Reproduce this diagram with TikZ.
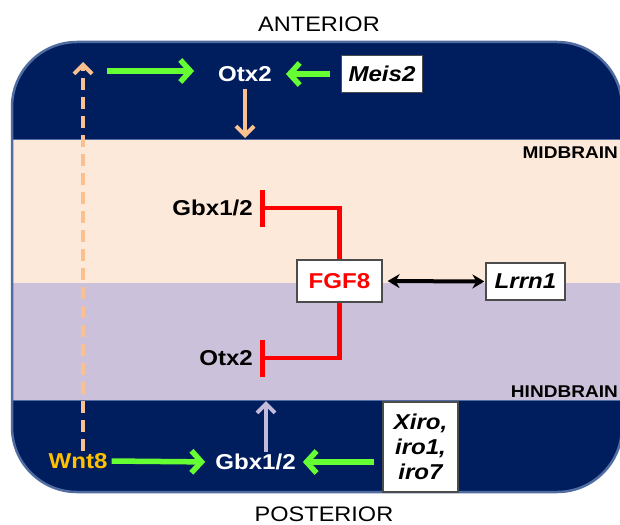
\documentclass[tikz,border=0pt]{standalone}
\usepackage{fontspec}
\setmainfont{Liberation Sans}[FakeStretch=1.12]
\usepackage{xcolor}
\usetikzlibrary{arrows.meta,positioning}

\definecolor{navy}{RGB}{0,30,94}
\definecolor{peach}{RGB}{253,233,217}
\definecolor{lavender}{RGB}{204,193,218}
\definecolor{rimblue}{RGB}{80,108,160}
\definecolor{actgreen}{RGB}{102,255,51}
\definecolor{wntgold}{RGB}{255,192,0}
\definecolor{peachline}{RGB}{250,192,144}
\definecolor{lavline}{RGB}{196,186,218}
\definecolor{inhred}{RGB}{255,0,0}

\begin{document}
\begin{tikzpicture}[x=1pt, y=-1pt,
  gene/.style={font=\fontsize{21.5}{25}\selectfont\bfseries, inner sep=2pt},
  target/.style={gene, inner xsep=7pt},
  genebox/.style={draw=black!70, line width=1.2pt, fill=white, align=center,
                  font=\fontsize{21.5}{25}\selectfont\bfseries\itshape, inner sep=2pt},
  axis/.style={font=\fontsize{21}{25}\selectfont, inner sep=0pt},
  region/.style={font=\fontsize{17}{20}\selectfont\bfseries, inner sep=0pt},
  act/.style={actgreen, line width=5.5pt, -{Straight Barb[length=10pt,width=22pt]}},
  inhib/.style={inhred, line width=4.5pt, -{Bar[width=37pt]}},
  flow/.style={line width=4pt, -{Straight Barb[length=9pt,width=18pt]}},
  bind/.style={line width=4pt, {Stealth[length=12pt,width=14pt]}-{Stealth[length=12pt,width=14pt]}}
]
  \useasboundingbox (0,0) rectangle (620,524);

  % Bands
  \begin{scope}
    \clip[rounded corners=65pt] (12,42) rectangle (622,492);
    \fill[navy] (12,42) rectangle (622,139);
    \fill[peach] (12,139) rectangle (622,283);
    \fill[lavender] (12,283) rectangle (622,400);
    \fill[navy] (12,400) rectangle (622,492);
    \draw[rimblue, line width=1pt] (12,139) -- (622,139);
    \draw[rimblue, line width=1pt] (12,400) -- (622,400);
  \end{scope}
  \draw[rimblue, line width=2.5pt, rounded corners=65pt] (12,42) rectangle (622,492);

  % Axis and region labels
  \node[axis, anchor=base] (anterior) at (319,32) {ANTERIOR};
  \node[axis, anchor=base] (posterior) at (324,521) {POSTERIOR};
  \node[region, anchor=base east] (midLabel) at (618,158) {MIDBRAIN};
  \node[region, anchor=base east] (hindLabel) at (618,397) {HINDBRAIN};

  % Anterior
  \node[gene, white] (otxAnt) at (245,74) {Otx2};
  \node[genebox, minimum width=81pt, minimum height=37pt] (meis) at (382,74) {Meis2};
  \coordinate (wntTop) at (83,62);
  \coordinate (wntFrom) at (107,71);
  \coordinate (midTop) at (245,138);
  \draw[act, shorten >=22pt] (wntFrom) -- (otxAnt.west |- wntFrom);
  \draw[act, shorten <=11pt, shorten >=12pt] (meis.west) -- (otxAnt.east);
  \draw[flow, peachline] (otxAnt.south) ++(0,5) coordinate (otxDown) -- (midTop);

  % Isthmus
  \node[target, anchor=east] (gbxMid) at (260,208) {Gbx1/2};
  \node[genebox, minimum width=85pt, minimum height=42pt,
        text=inhred, font=\fontsize{21.5}{25}\selectfont\bfseries] (fgf) at (339.5,281) {FGF8};
  \node[genebox, minimum width=79pt, minimum height=37pt] (lrrn) at (525.5,281.5) {Lrrn1};
  \node[target, anchor=east] (otxHind) at (260,358) {Otx2};
  \draw[inhib] (fgf.north) |- (gbxMid.east);
  \draw[inhib] (fgf.south) |- (otxHind.east);
  \draw[bind, shorten <=5pt, shorten >=1pt] (fgf.east) -- (lrrn.west);

  % Posterior
  \node[gene, wntgold] (wnt) at (78,461) {Wnt8};
  \node[gene, white] (gbxPost) at (255.5,462) {Gbx1/2};
  \node[genebox, minimum width=75pt, minimum height=90pt] (xiro) at (420.5,447) {Xiro,\\iro1,\\iro7};
  \coordinate (hindBot) at (266,401);
  \draw[act, shorten <=2pt, shorten >=8pt] (wnt.east) -- (gbxPost.west);
  \draw[act, shorten <=8pt, shorten >=5pt] (xiro.west |- gbxPost) -- (gbxPost.east);
  \draw[flow, lavline] ([xshift=10.5pt]gbxPost.north) -- (hindBot);
  \draw[flow, peachline, dash pattern=on 12pt off 7pt] ([xshift=5pt]wnt.north) -- (wntTop);
\end{tikzpicture}
\end{document}
